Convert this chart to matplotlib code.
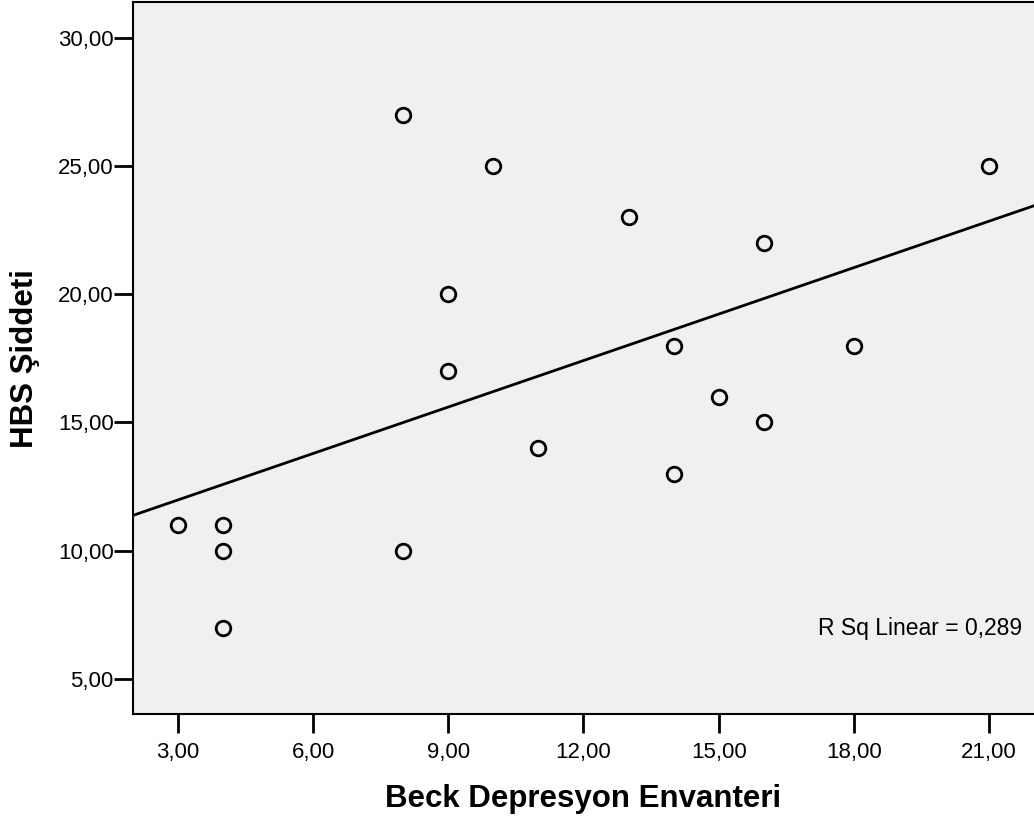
import numpy as np
import matplotlib
matplotlib.use('Agg')
import matplotlib.pyplot as plt

plt.rcParams['font.family'] = ['Liberation Sans', 'DejaVu Sans']

# data
beck = [3, 4, 4, 4, 8, 8, 9, 9, 10, 11, 13, 14, 14, 15, 16, 16, 18, 21]
hbs = [11, 11, 10, 7, 27, 10, 20, 17, 25, 14, 23, 18, 13, 16, 22, 15, 18, 25]
x_ticks = [3, 6, 9, 12, 15, 18, 21]
y_ticks = [5, 10, 15, 20, 25, 30]
r_sq_text = 'R Sq Linear = 0,289'

fig = plt.figure(figsize=(10.34, 8.27), dpi=100)
ax = fig.add_axes([0.1286, 0.1366, 0.8714, 0.8604])
ax.set_facecolor('#f0f0f0')

# linear fit line
slope, intercept = np.polyfit(beck, hbs, 1)
xs = np.array([2, 22])
ax.plot(xs, slope * xs + intercept, color='black', linewidth=2, zorder=2)

ax.plot(beck, hbs, linestyle='none', marker='o', markersize=10.5,
        markerfacecolor='none', markeredgecolor='black', markeredgewidth=2, zorder=3)

ax.text(21.73, 6.95, r_sq_text, ha='right', va='center', fontsize=16.5)

ax.set_xlim(2, 22)
ax.set_ylim(3.63, 31.38)
ax.set_xticks(x_ticks)
ax.set_xticklabels([f'{v:.2f}'.replace('.', ',') for v in x_ticks])
ax.set_yticks(y_ticks)
ax.set_yticklabels([f'{v:.2f}'.replace('.', ',') for v in y_ticks])
ax.tick_params(axis='both', length=14, width=2, labelsize=16, direction='out')
ax.tick_params(axis='y', pad=0)
ax.tick_params(axis='x', pad=6)

for s in ['left', 'bottom', 'top']:
    ax.spines[s].set_linewidth(1.5)
ax.spines['right'].set_visible(False)

ax.set_xlabel('Beck Depresyon Envanteri', fontsize=22.5, fontweight='bold')
ax.set_ylabel('HBS Şiddeti', fontsize=22.5, fontweight='bold')
ax.xaxis.set_label_coords(0.5, -0.098)
ax.yaxis.set_label_coords(-0.103, 0.5)

fig.savefig('out.png', dpi=100)
